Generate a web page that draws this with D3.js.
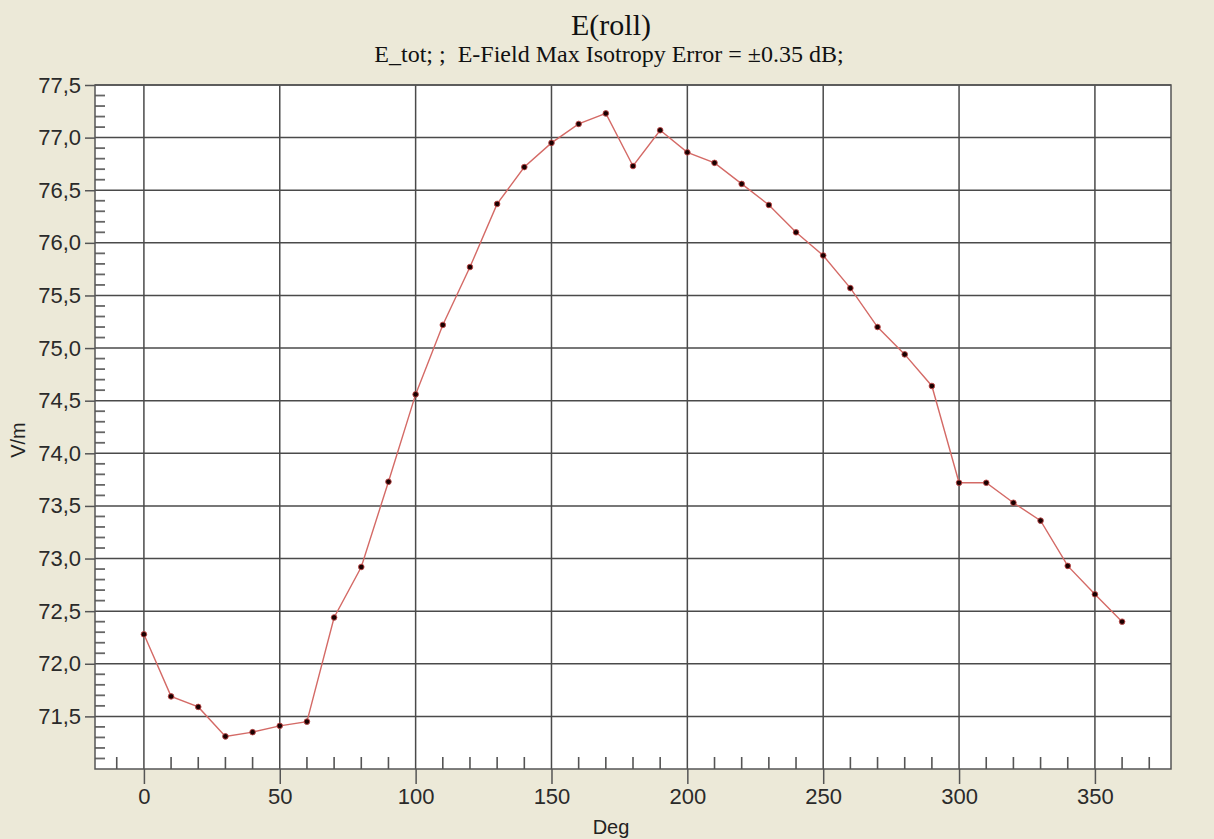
<!DOCTYPE html>
<html><head><meta charset="utf-8">
<script src="https://cdn.jsdelivr.net/npm/d3@7"></script>
<style>
html,body{margin:0;padding:0;background:#ECE9D8;}
svg{display:block;}
</style></head>
<body>
<svg id="chart" width="1214" height="839"></svg>
<script>
const title = "E(roll)";
const subtitle = "E_tot; ;  E-Field Max Isotropy Error = \u00B10.35 dB;";
const xLabel = "Deg";
const yLabel = "V/m";
const degrees = [0,10,20,30,40,50,60,70,80,90,100,110,120,130,140,150,160,170,180,190,200,210,220,230,240,250,260,270,280,290,300,310,320,330,340,350,360];
const fieldValues = [72.28,71.69,71.59,71.31,71.35,71.41,71.45,72.44,72.92,73.73,74.56,75.22,75.77,76.37,76.72,76.95,77.13,77.23,76.73,77.07,76.86,76.76,76.56,76.36,76.10,75.88,75.57,75.20,74.94,74.64,73.72,73.72,73.53,73.36,72.93,72.66,72.40];
const xTicks = [0,50,100,150,200,250,300,350];
const xMinorTicks = [-10,10,20,30,40,60,70,80,90,110,120,130,140,160,170,180,190,210,220,230,240,260,270,280,290,310,320,330,340,360,370];
const yTicks = [71.5,72.0,72.5,73.0,73.5,74.0,74.5,75.0,75.5,76.0,76.5,77.0,77.5];
const yMinorTicks = [71.1,71.2,71.3,71.4,71.6,71.7,71.8,71.9,72.1,72.2,72.3,72.4,72.6,72.7,72.8,72.9,73.1,73.2,73.3,73.4,73.6,73.7,73.8,73.9,74.1,74.2,74.3,74.4,74.6,74.7,74.8,74.9,75.1,75.2,75.3,75.4,75.6,75.7,75.8,75.9,76.1,76.2,76.3,76.4,76.6,76.7,76.8,76.9,77.1,77.2,77.3,77.4];
const xDomain = [-18, 378];
const yDomain = [71.0, 77.5];

const svg = d3.select("#chart");
const L = 95, R = 1171, T = 85, B = 769;
const x = d3.scaleLinear().domain(xDomain).range([L, R]);
const y = d3.scaleLinear().domain(yDomain).range([B, T]);
const gridColor = "#4a4a4a";
const sans = "'Liberation Sans', Arial, sans-serif";
const serif = "'Liberation Serif', 'Times New Roman', serif";

svg.append("rect").attr("x", L).attr("y", T).attr("width", R - L).attr("height", B - T).attr("fill", "#fff");

const grid = svg.append("g");
grid.selectAll("line.v").data(xTicks).join("line")
  .attr("x1", d => x(d)).attr("x2", d => x(d)).attr("y1", T).attr("y2", B)
  .attr("stroke", gridColor).attr("stroke-width", 1.5);
grid.selectAll("line.h").data(yTicks).join("line")
  .attr("x1", L).attr("x2", R).attr("y1", d => y(d)).attr("y2", d => y(d))
  .attr("stroke", gridColor).attr("stroke-width", 1.5);

svg.append("g").selectAll("line").data(xMinorTicks).join("line")
  .attr("x1", d => x(d)).attr("x2", d => x(d)).attr("y1", B).attr("y2", B - 12)
  .attr("stroke", "#555").attr("stroke-width", 1.6);
svg.append("g").selectAll("line").data(yMinorTicks).join("line")
  .attr("x1", L).attr("x2", L + 10).attr("y1", d => y(d)).attr("y2", d => y(d))
  .attr("stroke", "#666").attr("stroke-width", 1.8);

const fmtY = d => d3.format(".1f")(d).replace(".", ",");
const xAxis = svg.append("g").attr("transform", `translate(0,${B})`)
  .call(d3.axisBottom(x).tickValues(xTicks).tickSize(15).tickPadding(4).tickFormat(d3.format("d")));
const yAxis = svg.append("g").attr("transform", `translate(${L},0)`)
  .call(d3.axisLeft(y).tickValues(yTicks).tickSize(10).tickPadding(4).tickFormat(fmtY));
[xAxis, yAxis].forEach(g => {
  g.select(".domain").remove();
  g.selectAll(".tick line").attr("stroke", "#555").attr("stroke-width", 1.5);
  g.selectAll(".tick text").attr("fill", "#2a2a2a").style("font-family", sans).style("font-size", "22px");
});

svg.append("rect").attr("x", L).attr("y", T).attr("width", R - L).attr("height", B - T)
  .attr("fill", "none").attr("stroke", "#555").attr("stroke-width", 1.5);

const pts = degrees.map((d, i) => [d, fieldValues[i]]);
svg.append("path").datum(pts)
  .attr("d", d3.line().x(d => x(d[0])).y(d => y(d[1])))
  .attr("fill", "none").attr("stroke", "#d46a66").attr("stroke-width", 1.4);
svg.append("g").selectAll("circle").data(pts).join("circle")
  .attr("cx", d => x(d[0])).attr("cy", d => y(d[1])).attr("r", 2.8)
  .attr("fill", "#1a0000").attr("stroke", "#c04848").attr("stroke-width", 0.9);

svg.append("text").attr("x", 611).attr("y", 35).attr("text-anchor", "middle")
  .style("font-family", serif).style("font-size", "30px").attr("fill", "#111").text(title);
svg.append("text").attr("x", 609).attr("y", 62).attr("text-anchor", "middle")
  .style("font-family", serif).style("font-size", "24px").style("white-space", "pre")
  .attr("fill", "#111").text(subtitle);
svg.append("text").attr("x", 611).attr("y", 834).attr("text-anchor", "middle")
  .style("font-family", sans).style("font-size", "20px").attr("fill", "#222").text(xLabel);
svg.append("text").attr("transform", "translate(25,440) rotate(-90)").attr("text-anchor", "middle")
  .style("font-family", sans).style("font-size", "20px").attr("fill", "#222").text(yLabel);
</script>
</body></html>
